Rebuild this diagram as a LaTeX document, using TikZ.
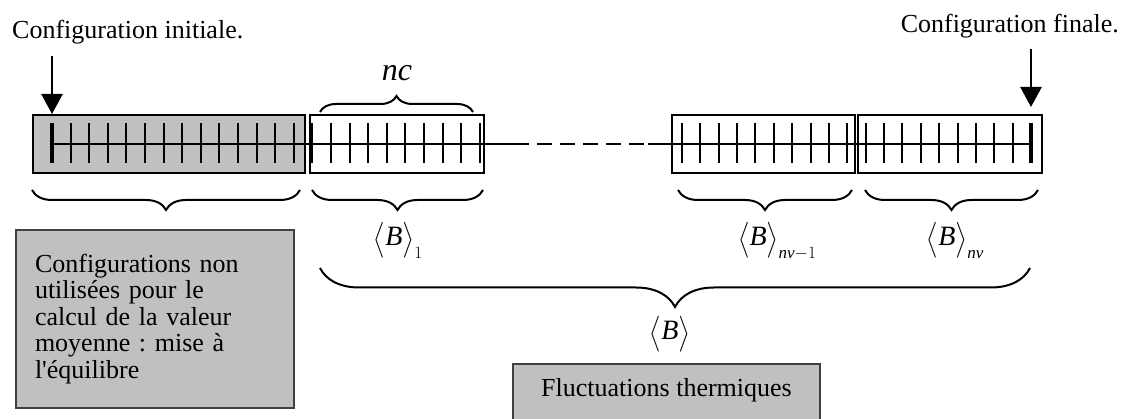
\documentclass[tikz,border=0pt]{standalone}
\usepackage{amsmath}
\usepackage{fontspec}
\setmainfont{Liberation Serif}
\usetikzlibrary{arrows.meta,positioning,decorations.pathreplacing}
\definecolor{gris}{HTML}{C0C0C0}
\frenchspacing

\newcommand{\chevg}{\raisebox{-2pt}{\scalebox{1}[1.2]{$\big\langle$}}}
\newcommand{\chevd}{\raisebox{-2pt}{\scalebox{1}[1.2]{$\big\rangle$}}}
\newcommand{\moy}[1]{\chevg\textit{B}\chevd\raisebox{-13pt}{\fontsize{17}{17}\selectfont$#1$}}

\begin{document}
\begin{tikzpicture}[x=1pt,y=-1pt,
  bloc/.style={draw,line width=2pt,minimum height=58pt,inner sep=0pt,anchor=north west},
  trait/.style={line width=2pt},
  accolade/.style={decorate,decoration={brace,amplitude=#1},line width=2pt},
  accolade/.default=20pt,
  fleche/.style={line width=2.5pt,-{Triangle[width=21pt,length=20pt]}},
  etiquette/.style={font=\fontsize{26}{30}\selectfont},
  formule/.style={font=\fontsize{28}{32}\selectfont},
  cadre/.style={draw=black!75,fill=gris,line width=2pt,anchor=north west}]
  \useasboundingbox (0,0) rectangle (1128,419);
  \clip (0,0) rectangle (1128,419);

  % les blocs de configurations
  \node[bloc,fill=gris,minimum width=272pt] (bloc0) at (32,114) {};
  \node[bloc,minimum width=174pt] (bloc1) at (309,114) {};
  \node[bloc,minimum width=183pt] (blocA) at (671,114) {};
  \node[bloc,minimum width=184pt] (blocB) at (857,114) {};

  % la chaine
  \draw[trait] (52,144) -- (514,144);
  \draw[trait,dash pattern=on 15pt off 8pt] (514,144) -- (648,144);
  \draw[trait] (648,144) -- (1031,144);
  \foreach \k in {1,...,23} {
    \draw[trait] ({52+18.6*\k},123) -- ++(0,40);
  }
  \foreach \k in {0,...,18} {
    \draw[trait] ({682+18.37*\k},123) -- ++(0,40);
  }
  \draw[line width=3.5pt] (52,123) -- (52,163);
  \draw[line width=3.5pt] (1031,123) -- (1031,163);

  % debut et fin
  \node[etiquette,anchor=base west,inner sep=0pt] (init) at (12,39) {Configuration initiale.};
  \node[etiquette,anchor=base east,inner sep=0pt] (fin) at (1119,33) {Configuration finale.};
  \coordinate (depart) at (52,56);
  \coordinate (arrivee) at (1031,49);
  \draw[fleche] (depart) -- (depart |- bloc0.north);
  \draw[fleche] (arrivee) -- ([yshift=7pt]arrivee |- blocB.north);

  % accolades
  \draw[accolade=16pt] (320,112) -- (473,112);
  \node[font=\fontsize{32}{36}\selectfont] (nc) at (397,73) {\textit{nc}};
  \draw[accolade] (300,190) -- (32,190);
  \draw[accolade] (483,190) -- (312,190);
  \draw[accolade] (852,190) -- (678,190);
  \draw[accolade] (1038,190) -- (865,190);
  \draw[accolade=39pt] (1030,268) -- (320,268);

  \node[formule,anchor=base] (moy1) at (398,246) {\moy{1}};
  \node[formule,anchor=base] (moyA) at (777,246) {\moy{\text{\itshape nv}{-}1}};
  \node[formule,anchor=base] (moyB) at (955,246) {\moy{\text{\itshape nv}}};
  \node[formule] (moy) at (670,334) {\moy{}};

  % les cadres de texte
  \node[cadre,font=\fontsize{26}{26.5}\selectfont,text width=240pt,inner xsep=19pt,
    minimum height=178pt,align=left] (nonutil) at (15,229)
    {Configurations non\\ utilisées pour le\\ calcul de la valeur\\ moyenne : mise à\\ l\textquotesingle équilibre};
  \node[cadre,etiquette,minimum width=307pt,inner ysep=14pt,text depth=60pt] (fluct) at (512,363)
    {Fluctuations thermiques};
\end{tikzpicture}
\end{document}
